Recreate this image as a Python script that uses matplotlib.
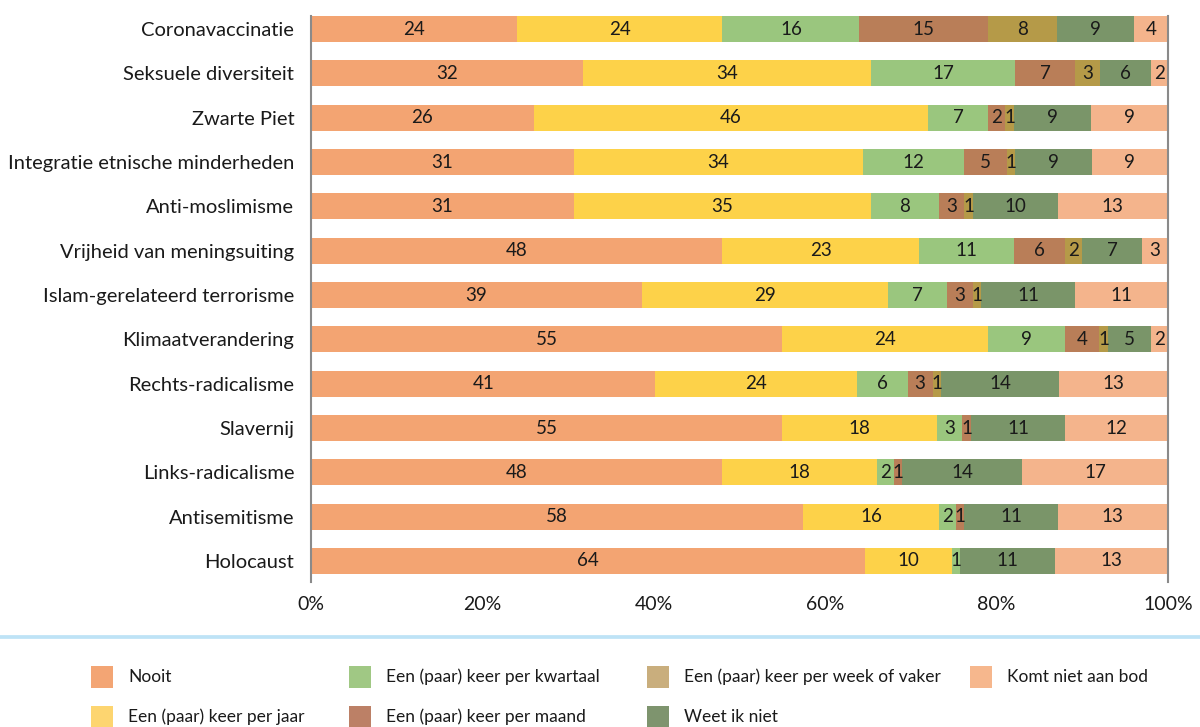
import numpy as np
import matplotlib
matplotlib.use("Agg")
import matplotlib.pyplot as plt
from matplotlib.patches import Rectangle
from matplotlib.lines import Line2D

plt.rcParams['font.family'] = ['Lato', 'DejaVu Sans']

topics = ["Coronavaccinatie", "Seksuele diversiteit", "Zwarte Piet",
          "Integratie etnische minderheden", "Anti-moslimisme",
          "Vrijheid van meningsuiting", "Islam-gerelateerd terrorisme",
          "Klimaatverandering", "Rechts-radicalisme", "Slavernij",
          "Links-radicalisme", "Antisemitisme", "Holocaust"]

categories = ["Nooit", "Een (paar) keer per jaar", "Een (paar) keer per kwartaal",
              "Een (paar) keer per maand", "Een (paar) keer per week of vaker",
              "Weet ik niet", "Komt niet aan bod"]

nooit    = [24, 32, 26, 31, 31, 48, 39, 55, 41, 55, 48, 58, 64]
jaar     = [24, 34, 46, 34, 35, 23, 29, 24, 24, 18, 18, 16, 10]
kwartaal = [16, 17, 7, 12, 8, 11, 7, 9, 6, 3, 2, 2, 1]
maand    = [15, 7, 2, 5, 3, 6, 3, 4, 3, 1, 1, 1, 0]
week     = [8, 3, 1, 1, 1, 2, 1, 1, 1, 0, 0, 0, 0]
weet     = [9, 6, 9, 9, 10, 7, 11, 5, 14, 11, 14, 11, 11]
komt     = [4, 2, 9, 9, 13, 3, 11, 2, 13, 12, 17, 13, 13]

bar_colors = ["#F3A472", "#FDD249", "#9AC67E", "#B97E58", "#B59A48", "#7A9569", "#F4B48C"]
legend_colors = ["#F3A574", "#FDD570", "#A0C884", "#BC8066", "#C9AE7D", "#7E946E", "#F6B78D"]

series = np.array([nooit, jaar, kwartaal, maand, week, weet, komt], dtype=float)
# rounded percentages, scale each row so the bar fills 100%
shares = series / series.sum(axis=0) * 100

fig = plt.figure(figsize=(12, 7.27), dpi=100)
ax = fig.add_axes([311 / 1200, 1 - 582 / 727, 857 / 1200, 566 / 727])

y = np.arange(len(topics))
left = np.zeros(len(topics))
for i in range(len(categories)):
    ax.barh(y, shares[i], left=left, height=0.59, color=bar_colors[i], linewidth=0)
    for j in range(len(topics)):
        if series[i, j] > 0:
            ax.text(left[j] + shares[i, j] / 2, y[j], f"{int(series[i, j])}",
                    ha='center', va='center', fontsize=13.5, color='#1a1a1a')
    left += shares[i]

ax.set_xlim(0, 100)
ax.set_ylim(12.474, -0.295)
ax.set_yticks(y)
ax.set_yticklabels(topics, fontsize=14.5)
ax.set_xticks([0, 20, 40, 60, 80, 100])
ax.set_xticklabels(["0%", "20%", "40%", "60%", "80%", "100%"], fontsize=14)
ax.tick_params(axis='both', length=0, colors='#1a1a1a')
ax.tick_params(axis='y', pad=12)
ax.tick_params(axis='x', pad=10)
for s in ['top', 'bottom']:
    ax.spines[s].set_visible(False)
for s in ['left', 'right']:
    ax.spines[s].set_color('#8a8a8a')
    ax.spines[s].set_linewidth(1.5)

# light blue separator
fig.add_artist(Line2D([0, 1], [1 - 636.5 / 727] * 2, color='#BEE3F6', linewidth=2.7))

# legend, filled column-wise
col_x = [91, 349, 647, 970]
row_y = [677, 717]
slots = [(0, 0), (0, 1), (1, 0), (1, 1), (2, 0), (2, 1), (3, 0)]
sw = 22
for k, (c, r) in enumerate(slots):
    x0 = col_x[c]
    yc = row_y[r]
    fig.add_artist(Rectangle((x0 / 1200, 1 - (yc + sw / 2) / 727), sw / 1200, sw / 727,
                             facecolor=legend_colors[k], edgecolor='none'))
    fig.text((x0 + 37) / 1200, 1 - yc / 727, categories[k], fontsize=12.5,
             va='center', ha='left', color='#1a1a1a')

fig.savefig("out.png", dpi=100)
